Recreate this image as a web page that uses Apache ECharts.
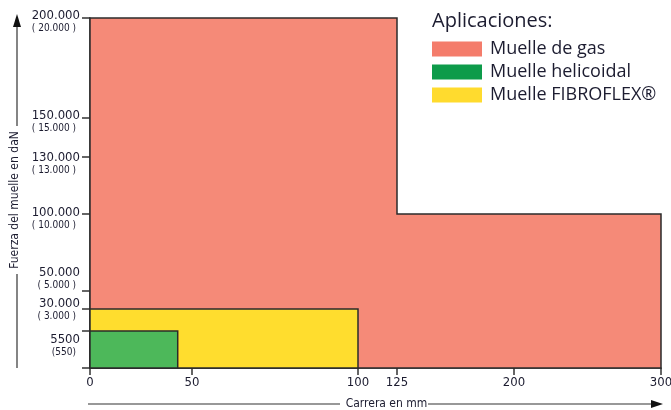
<!DOCTYPE html>
<html lang="es">
<head>
    <meta charset="UTF-8">
    <title>Aplicaciones</title>
    <script src="https://cdn.jsdelivr.net/npm/echarts@6/dist/echarts.min.js"></script>
    <style>
        html, body { margin: 0; padding: 0; background: #fff; }
    </style>
</head>
<body>
<div id="main" style="width: 671px;height:410px;"></div>
<script>
    // carrera (mm) / fuerza (daN) -- the drawing uses an uneven scale
    var xTicks = [0, 50, 100, 125, 200, 300];
    var xSlots = [0, 102, 268, 307, 424, 571];
    var yTicks = [0, 5500, 30000, 50000, 100000, 130000, 150000, 200000];
    var ySlots = [0, 37, 59, 77, 154, 211, 250, 350];
    // where the two-line labels sit (they are not all centred on their tick)
    var yLabelSlots = [0, 22, 58, 89, 149, 204, 246, 346];
    var yLabels = ['', '5500', '30.000', '50.000', '100.000', '130.000', '150.000', '200.000'];
    var ySubLabels = ['', '(550)', '( 3.000 )', '( 5.000 )', '( 10.000 )', '( 13.000 )', '( 15.000 )', '( 20.000 )'];

    // outline of each area as [carrera, fuerza]
    var gasArea = [[0, 0], [0, 200000], [125, 200000], [125, 100000], [300, 100000], [300, 0]];
    var fibroflexArea = [[0, 0], [0, 30000], [100, 30000], [100, 0]];
    var helicoidalArea = [[0, 0], [0, 5500], [43, 5500], [43, 0]];

    var seriesNames = ['Muelle de gas', 'Muelle helicoidal', 'Muelle FIBROFLEX®'];

    // piecewise linear mapping onto the drawing's axis units
    function piece(v, br, sl) {
        for (var i = 1; i < br.length; i++) {
            if (v <= br[i]) {
                return sl[i - 1] + (v - br[i - 1]) / (br[i] - br[i - 1]) * (sl[i] - sl[i - 1]);
            }
        }
        return sl[sl.length - 1];
    }
    function tx(v) { return piece(v, xTicks, xSlots); }
    function ty(v) { return piece(v, yTicks, ySlots); }

    var ink = '#1c1c30';
    var font = '"Liberation Sans Narrow", "DejaVu Sans Condensed", sans-serif';
    var legendFont = '"Open Sans", sans-serif';

    function areaSeries(name, area, fill, z) {
        return {
            name: name,
            type: 'custom',
            z: z,
            itemStyle: {color: fill},
            data: [[0, 0]],
            renderItem: function (params, api) {
                var pts = area.map(function (p) {
                    return api.coord([tx(p[0]), ty(p[1])]);
                });
                return {
                    type: 'polygon',
                    shape: {points: pts},
                    style: {fill: fill, stroke: '#2b2b2b', lineWidth: 1.5}
                };
            }
        };
    }

    var myChart = echarts.init(document.getElementById('main'));

    var option = {
        backgroundColor: '#fff',
        animation: false,
        title: {
            text: 'Aplicaciones:',
            left: 427,
            top: 11,
            padding: [0, 5],
            textStyle: {color: ink, fontSize: 20, fontWeight: 'normal', fontFamily: legendFont}
        },
        legend: {
            orient: 'vertical',
            left: 432,
            top: 40,
            padding: 0,
            itemWidth: 50,
            itemHeight: 15,
            itemGap: 5,
            icon: 'rect',
            textStyle: {color: ink, fontSize: 18, fontFamily: legendFont, padding: [0, 0, 0, 3]},
            data: [
                {name: seriesNames[0], itemStyle: {color: '#f47c6b', borderWidth: 0}},
                {name: seriesNames[1], itemStyle: {color: '#0d9b4a', borderWidth: 0}},
                {name: seriesNames[2], itemStyle: {color: '#ffdb2e', borderWidth: 0}}
            ]
        },
        grid: {left: 90, right: 10, top: 18, bottom: 42, containLabel: false, outerBoundsMode: 'none'},
        xAxis: {
            type: 'value',
            min: 0,
            max: xSlots[xSlots.length - 1],
            name: 'Carrera en mm',
            nameLocation: 'middle',
            nameGap: 30,
            nameTextStyle: {color: ink, fontSize: 12, fontFamily: font, padding: [0, 0, 0, 22]},
            axisLine: {lineStyle: {color: '#333', width: 1.5}},
            axisTick: {show: true, length: 7, lineStyle: {color: '#333', width: 1.5}, customValues: xSlots},
            axisLabel: {
                color: ink, fontSize: 13, fontFamily: font, margin: 8,
                customValues: xSlots,
                formatter: function (v) {
                    var i = xSlots.indexOf(v);
                    return i < 0 ? '' : String(xTicks[i]);
                }
            },
            splitLine: {show: false}
        },
        yAxis: {
            type: 'value',
            min: 0,
            max: ySlots[ySlots.length - 1],
            name: 'Fuerza del muelle en daN',
            nameLocation: 'middle',
            nameRotate: 90,
            nameGap: 66,
            nameTextStyle: {color: ink, fontSize: 12, fontFamily: font, padding: [0, 14, 0, 0]},
            axisLine: {lineStyle: {color: '#333', width: 1.5}},
            axisTick: {show: true, length: 8, lineStyle: {color: '#333', width: 1.5}, customValues: ySlots},
            axisLabel: {
                margin: 10,
                align: 'right',
                customValues: yLabelSlots.slice(1),
                formatter: function (v) {
                    var i = yLabelSlots.indexOf(v);
                    if (i <= 0) return '';
                    return '{a|' + yLabels[i] + '}\n{b|' + ySubLabels[i] + '}';
                },
                rich: {
                    a: {color: ink, fontSize: 13, fontFamily: font, lineHeight: 13, align: 'right'},
                    b: {color: ink, fontSize: 10, fontFamily: font, lineHeight: 12, align: 'right', padding: [0, 4, 0, 0]}
                }
            },
            splitLine: {show: false}
        },
        graphic: [
            // arrows beside the axis names
            {type: 'line', shape: {x1: 17, y1: 368, x2: 17, y2: 274}, style: {stroke: '#333', lineWidth: 1.2}},
            {type: 'line', shape: {x1: 17, y1: 126, x2: 17, y2: 24}, style: {stroke: '#333', lineWidth: 1.2}},
            {type: 'polygon', shape: {points: [[17, 14], [13, 27], [21, 27]]}, style: {fill: '#111'}},
            {type: 'line', shape: {x1: 88, y1: 404, x2: 340, y2: 404}, style: {stroke: '#333', lineWidth: 1.2}},
            {type: 'line', shape: {x1: 428, y1: 404, x2: 654, y2: 404}, style: {stroke: '#333', lineWidth: 1.2}},
            {type: 'polygon', shape: {points: [[663, 404], [651, 400], [651, 408]]}, style: {fill: '#111'}}
        ],
        series: [
            areaSeries(seriesNames[0], gasArea, '#f58a78', 1),
            areaSeries(seriesNames[1], helicoidalArea, '#4db85a', 3),
            areaSeries(seriesNames[2], fibroflexArea, '#ffdd2e', 2)
        ]
    };
    myChart.setOption(option);
</script>
</body>
</html>
